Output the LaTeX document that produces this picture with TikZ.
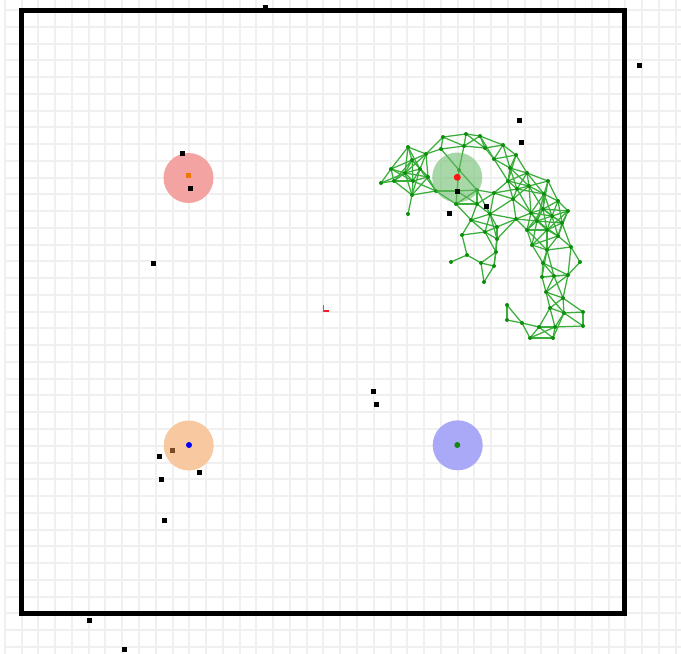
\documentclass[tikz,border=0pt]{standalone}
\definecolor{gridgray}{HTML}{F0F0F0}
\definecolor{gdark}{HTML}{0E8E0E}
\definecolor{gedgecol}{HTML}{3AAE3A}
\definecolor{zred}{HTML}{F4A3A3}
\definecolor{zorange}{HTML}{F8C9A0}
\definecolor{zblue}{HTML}{A9A9F7}
\definecolor{zgreen}{HTML}{62B862}
\definecolor{dorange}{HTML}{F07800}
\definecolor{dred}{HTML}{FF1414}
\definecolor{dgreen}{HTML}{128A12}
\definecolor{dbrown}{HTML}{7A4A22}
\begin{document}
\begin{tikzpicture}[x=1pt,y=-1pt]
\tikzset{
  gridline/.style={draw=gridgray, line width=2pt},
  wall/.style={draw=black, line width=5pt, line join=miter},
  obst/.style={shape=rectangle, fill=black, minimum size=5pt, inner sep=0pt},
  gedge/.style={draw=gedgecol, line width=1.25pt},
  zone/.style={shape=circle, inner sep=0pt, minimum size=50pt},
  dotmark/.style={shape=circle, inner sep=0pt, minimum size=6pt},
}
\useasboundingbox (0,0) rectangle (681,654);
\fill[white] (0,0) rectangle (681,654);
% grid
\foreach \k in {0,...,40} {\draw[gridline] ({round(4.8+\k*16.77)},0) -- ({round(4.8+\k*16.77)},654);}
\foreach \k in {0,...,38} {\draw[gridline] (5,{round(10+\k*16.76)}) -- (681,{round(10+\k*16.76)});}
% walls
\draw[wall] (21,10) rectangle (624,613);
% roadmap graph
\def\glist{381/183, 391/169, 394/181, 405/173, 408/147, 412/160, 413/181, 420/169, 426/154, 428/177,
412/195, 408/214, 436/191, 441/149, 443/137, 466/134, 464/146, 480/136, 485/148, 503/145,
494/159, 516/155, 459/170, 457/191, 477/190, 510/168, 508/181, 527/173, 548/181, 517/189,
529/186, 494/193, 513/199, 477/204, 456/204, 490/214, 471/220, 497/227, 485/232, 462/235,
497/239, 467/255, 496/252, 451/262, 481/263, 494/266, 484/282, 544/194, 558/201, 543/209,
531/213, 568/211, 516/219, 537/221, 552/216, 562/223, 547/230, 527/230, 558/236, 532/245,
547/250, 571/247, 580/262, 543/263, 554/276, 568/275, 542/277, 546/292, 563/298, 507/305,
550/308, 564/313, 583/312, 507/320, 522/323, 539/327, 555/327, 583/326, 530/338, 553/338}
\foreach \x/\y [count=\i] in \glist {\coordinate (g\i) at (\x,\y);}
\foreach \xa/\ya [count=\i] in \glist {
  \foreach \xb/\yb [count=\j] in \glist {
    \ifnum\j>\i
      \pgfmathsetmacro\dd{veclen((\xa-\xb)/100,(\ya-\yb)/100)}
      \ifdim\dd pt<0.285pt \draw[gedge] (g\i) -- (g\j);\fi
    \fi
  }
}
\foreach \i in {1,...,80} {\fill[gdark] (g\i) circle (2pt);}
% zones
\node[zone, fill=zred] (zr) at (188.5,178) {};
\node[zone, fill=zorange] (zo) at (188.7,445.5) {};
\node[zone, fill=zblue] (zb) at (457.7,445.3) {};
\node[zone, fill=zgreen, fill opacity=0.55] (zg) at (457.2,177.5) {};
% markers in zones
\node[shape=rectangle, fill=dorange, minimum size=5pt, inner sep=0pt] (mo) at (188,175.5) {};
\node[dotmark, fill=blue] (mb) at (189,445) {};
\node[dotmark, fill=dgreen] (mg) at (457.3,445) {};
\node[dotmark, fill=dred, minimum size=7pt] (mr) at (457.3,177.3) {};
\node[obst, fill=dbrown] (ob) at (172.3,450.3) {};
% obstacles
\node[obst] (o1) at (265,7) {};
\node[obst] (o2) at (639.3,65.7) {};
\node[obst] (o3) at (519.3,120.7) {};
\node[obst] (o4) at (521.3,142.7) {};
\node[obst] (o5) at (182.3,153.3) {};
\node[obst] (o6) at (190.3,188.3) {};
\node[obst] (o7) at (153.7,263.7) {};
\node[obst] (o8) at (457.3,191.3) {};
\node[obst] (o9) at (486.7,206.7) {};
\node[obst] (o10) at (449,213) {};
\node[obst] (o11) at (373.3,391.7) {};
\node[obst] (o12) at (376,404.7) {};
\node[obst] (o13) at (159,456.7) {};
\node[obst] (o14) at (199,472.7) {};
\node[obst] (o15) at (161,479) {};
\node[obst] (o16) at (164,520.7) {};
\node[obst] (o17) at (89.3,620.7) {};
\node[obst] (o18) at (124.3,649.3) {};
% origin axes marker
\coordinate (ax) at (323.5,311);
\coordinate (axx) at (329,311);
\coordinate (axy) at (323.5,305);
\draw[green!80!black, line width=1.3pt] (ax) -- (axy);
\draw[red!90, line width=1.3pt] (ax) -- (axx);
\fill[blue!60] (ax) circle (1pt);
\end{tikzpicture}
\end{document}
